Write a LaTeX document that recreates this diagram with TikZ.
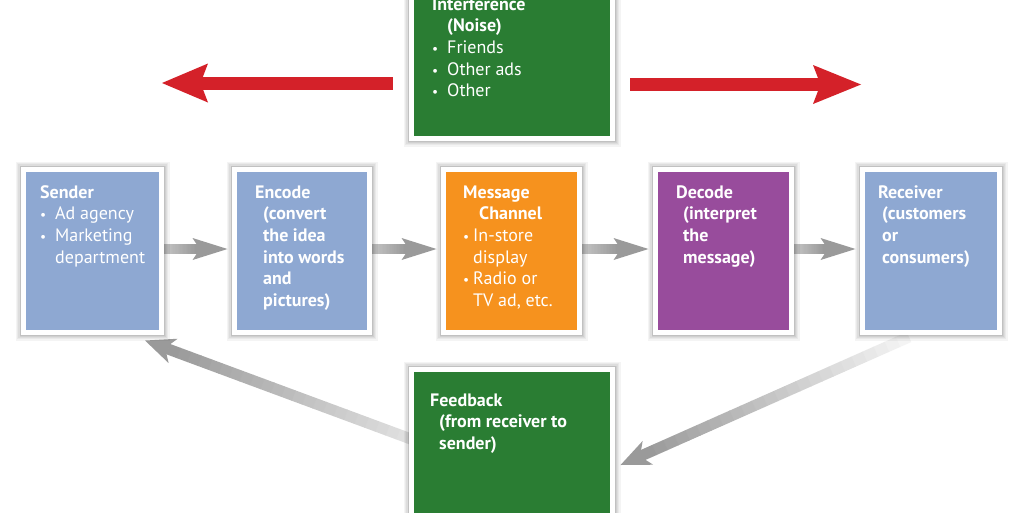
\documentclass[tikz,border=0pt]{standalone}
\usepackage{fontspec}
\setmainfont{PT Sans}
\usetikzlibrary{calc}
\pgfdeclarelayer{bg}
\pgfsetlayers{bg,main}
\definecolor{boxblue}{HTML}{8EA8D2}
\definecolor{boxgreen}{HTML}{2A7D33}
\definecolor{boxorange}{HTML}{F6921E}
\definecolor{boxpurple}{HTML}{984C9C}
\definecolor{arrred}{HTML}{D42129}
\definecolor{gdark}{HTML}{9A9A9A}
\definecolor{gmid}{HTML}{C4C4C4}
\definecolor{glight}{HTML}{E2E2E2}
\definecolor{gvlight}{HTML}{F4F4F4}
\newcommand\bulw[1]{\makebox[#1][l]{\scalebox{0.75}{•}}}
\newcommand\fs{\rule{0pt}{16pt}}
% #1 tail, #2 tip, #3 shaft half width, #4 head half width, #5 head length, #6 inset, #7 start colour, #8 end colour
\newcommand\fatarrow[8]{%
  \path let \p1=(#1), \p2=(#2), \n1={atan2(\y2-\y1,\x2-\x1)}, \n2={veclen(\x2-\x1,\y2-\y1)} in
    \pgfextra{\xdef\FAang{\n1}\xdef\FAlen{\n2}\xdef\FAx{\x1}\xdef\FAy{\y1}};
  \begin{scope}[shift={(\FAx,\FAy)}, rotate=\FAang]
    \pgfmathsetmacro\FAL{\FAlen}
    \pgfmathsetmacro\FAshaft{\FAL-#5+#6}
    \pgfmathsetmacro\FAseg{\FAshaft/24}
    \foreach \i in {0,...,23}{
      \pgfmathsetmacro\pct{100*\i/23}
      \fill[#8!\pct!#7] ({\i*\FAseg},{-#3}) rectangle ({(\i+1)*\FAseg+0.5},{#3});
    }
    \fill[#8] ({\FAL-#5},{-#4}) -- ({\FAL},0) -- ({\FAL-#5},{#4}) -- ({\FAL-#5+#6},{#3})
      -- ({\FAL-#5+#6},{-#3}) -- cycle;
  \end{scope}
}
\tikzset{
  box/.style={draw=white, line width=5pt, inner sep=0pt,
    preaction={draw=black, draw opacity=0.045, line width=16pt},
    preaction={draw=black, draw opacity=0.045, line width=13pt},
    preaction={draw=black, draw opacity=0.05, line width=10.5pt},
    preaction={draw=black, draw opacity=0.06, line width=8pt},
    preaction={draw=black, draw opacity=0.07, line width=6.5pt}},
  rowbox/.style={box, minimum height=163pt},
  txt/.style={anchor=north west, inner sep=0pt, align=left, text=white,
    font=\fontsize{18pt}{21.6pt}\selectfont},
  txtb/.style={txt, font=\fontsize{18pt}{21.6pt}\selectfont\bfseries}
}
\begin{document}
\begin{tikzpicture}[x=1pt,y=-1pt]
\useasboundingbox (0,0) rectangle (1024,512);
\clip (0,0) rectangle (1024,512);
\begin{pgfonlayer}{bg}
\fill[white] (0,0) rectangle (1024,512);
\end{pgfonlayer}

% boxes
\node[rowbox, fill=boxblue,   minimum width=138pt] (sender)   at (92.5,251) {};
\node[rowbox, fill=boxblue,   minimum width=135pt] (encode)   at (302,251) {};
\node[rowbox, fill=boxorange, minimum width=136pt] (message)  at (511.5,251) {};
\node[rowbox, fill=boxpurple, minimum width=136pt] (decode)   at (723.5,251) {};
\node[rowbox, fill=boxblue,   minimum width=137pt] (receiver) at (931,251) {};
\node[box, fill=boxgreen, minimum width=201pt, minimum height=176pt] (interf) at (512,50.5) {};
\node[box, fill=boxgreen, minimum width=201pt, minimum height=188pt] (feedback) at (512,463.5) {};

% grey connectors (behind the boxes)
\begin{pgfonlayer}{bg}
\fatarrow{$(sender.east)+(0,-2)$}{$(encode.west)+(-4.5,-2)$}{5}{11}{35}{4}{gmid}{gdark}
\fatarrow{$(encode.east)+(0,-2)$}{$(message.west)+(-4.5,-2)$}{5}{11}{35}{4}{gmid}{gdark}
\fatarrow{$(message.east)+(0,-2)$}{$(decode.west)+(-4.5,-2)$}{5}{11}{35}{4}{gmid}{gdark}
\fatarrow{$(decode.east)+(0,-2)$}{$(receiver.west)+(-4.5,-2)$}{5}{11}{35}{4}{gmid}{gdark}
\fatarrow{$(feedback.west)+(10,-21.5)$}{$(sender.south)+(52.5,5.5)$}{5.5}{13}{30}{5}{glight}{gdark}
\fatarrow{$(receiver.south)+(-22,2)$}{$(feedback.east)+(5.5,1.5)$}{5.5}{13}{30}{5}{gvlight}{gdark}
\end{pgfonlayer}

% red connectors
\coordinate (rl-tail) at (393,83);
\coordinate (rl-tip) at (162,83);
\coordinate (rr-tail) at (630,84.5);
\coordinate (rr-tip) at (861,84.5);
\fatarrow{rl-tail}{rl-tip}{6.5}{19.5}{46}{5}{arrred}{arrred}
\fatarrow{rr-tail}{rr-tip}{6.5}{19.5}{48}{5}{arrred}{arrred}

% texts
\node[txt] (sender-t) at (40,182) {\fs\textbf{Sender}\\
  \bulw{15pt}Ad agency\\
  \bulw{15pt}Marketing\\
  \hspace*{15pt}department};
\node[txtb] (encode-t) at (255,182) {\fs Encode\\
  \hspace*{8pt}(convert\\
  \hspace*{8pt}the idea\\
  \hspace*{8pt}into words\\
  \hspace*{8pt}and\\
  \hspace*{8pt}pictures)};
\node[txt] (message-t) at (463,182) {\fs\textbf{Message}\\
  \hspace*{16pt}\textbf{Channel}\\
  \bulw{10pt}In-store\\
  \hspace*{10pt}display\\
  \bulw{10pt}Radio or\\
  \hspace*{10pt}TV ad, etc.};
\node[txtb] (decode-t) at (676,182) {\fs Decode\\
  \hspace*{7pt}(interpret\\
  \hspace*{7pt}the\\
  \hspace*{7pt}message)};
\node[txtb] (receiver-t) at (878,182) {\fs Receiver\\
  \hspace*{4pt}(customers\\
  \hspace*{4pt}or\\
  \hspace*{4pt}consumers)};
\node[txt] (interf-t) at (432,-6) {\fs\textbf{Interference}\\
  \hspace*{15pt}\textbf{(Noise)}\\
  \bulw{15pt}Friends\\
  \bulw{15pt}Other ads\\
  \bulw{15pt}Other};
\node[txtb] (feedback-t) at (430,390) {\fs Feedback\\
  \hspace*{9pt}(from receiver to\\
  \hspace*{9pt}sender)};
\end{tikzpicture}
\end{document}
